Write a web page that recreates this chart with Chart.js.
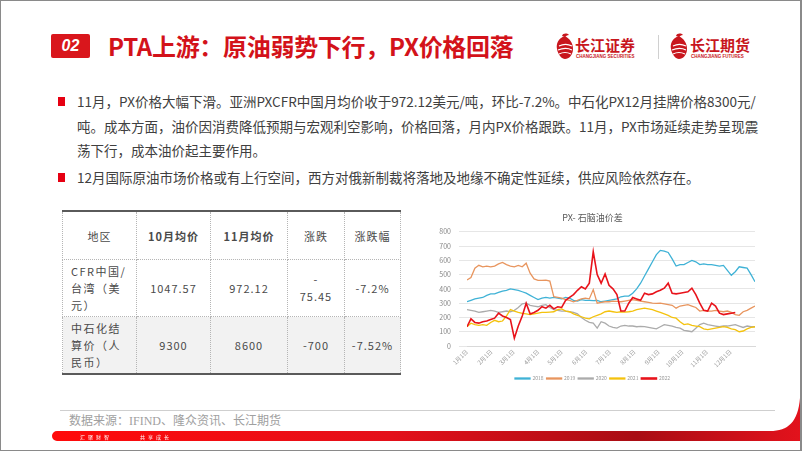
<!DOCTYPE html>
<html lang="zh">
<head>
<meta charset="utf-8"/>
<title>PTA上游：原油弱势下行，PX价格回落</title>
<script src="https://cdn.jsdelivr.net/npm/chart.js@4.4.3/dist/chart.umd.min.js"></script>
<style>
  body { margin: 0; width: 802px; height: 451px; position: relative; overflow: hidden; background: #fff; font-family: "Noto Sans CJK SC", "Noto Sans", sans-serif; }
  .abs { position: absolute; }
  .frame { left: 0; top: 0; width: 802px; height: 451px; box-sizing: border-box; border: 1px solid #8a8a8a; border-right-width: 2px; pointer-events: none; }
  .tag { left: 51px; top: 34px; width: 39px; height: 24px; background: #d9161c; border-radius: 2px; color: #fff; font: italic bold 16px "Liberation Sans", sans-serif; text-align: center; line-height: 24px; }
  .title { left: 108px; top: 28px; color: #d3121a; font-size: 24px; font-weight: bold; white-space: nowrap; letter-spacing: -0.3px; }
  .logo-cn { color: #c8161d; font-weight: bold; font-size: 15px; line-height: 15px; white-space: nowrap; }
  .logo-en { color: #c8161d; font: bold 4.5px "Liberation Sans", sans-serif; line-height: 5px; white-space: nowrap; }
  .txt { left: 77px; color: #404040; font-size: 13.5px; white-space: nowrap; line-height: 18px; }
  .sq { width: 7px; height: 9px; background: #e60012; }
  table { border-collapse: collapse; table-layout: fixed; color: #4a4a4a; font-size: 11px; }
  td { border: 1px dotted #b5b5b5; text-align: center; letter-spacing: 1px; padding: 0; }
  tr.head td { height: 47px; }
  tr.r1 td, tr.r2 td { height: 56px; }
  tr.r2 td { background: #f2f2f2; }
  td.lft { text-align: left; padding-left: 8px; line-height: 17px; letter-spacing: 1.5px; }
  .src { left: 69px; top: 411px; color: #a0a0a0; font: 12px "Liberation Serif", "Noto Sans CJK SC", serif; white-space: nowrap; }
  .chartbox { left: 430px; top: 205px; width: 340px; height: 186px; }
</style>
</head>
<body>
<div class="abs tag">02</div>
<div class="abs title">PTA上游：原油弱势下行，PX价格回落</div>

<svg class="abs" style="left:554px;top:32px" width="22" height="28" viewBox="0 0 22 28">
  <path d="M11 4 C4 6 2 12 3 17 C4 23 8 27 11 27 C15 27 19 23 19 17 C19 11 16 7 11 4 Z" fill="#c8161d"/>
  <path d="M5 14 C9 12 14 12 18 14 M4 18 C9 16 14 16 18 18 M5 22 C9 20 13 20 17 22" stroke="#fff" stroke-width="1.2" fill="none"/>
  <path d="M8 4 C9 1 13 1 15 3 C13 3 12 4 11 5 Z" fill="#c8161d"/>
</svg>
<div class="abs logo-cn" style="left:575px;top:37px">长江证券</div>
<div class="abs logo-en" style="left:576px;top:54px">CHANGJIANG SECURITIES</div>
<div class="abs" style="left:658px;top:35px;width:1px;height:24px;background:#d0d0d0"></div>
<svg class="abs" style="left:668px;top:32px" width="22" height="28" viewBox="0 0 22 28">
  <path d="M11 4 C4 6 2 12 3 17 C4 23 8 27 11 27 C15 27 19 23 19 17 C19 11 16 7 11 4 Z" fill="#c8161d"/>
  <path d="M5 14 C9 12 14 12 18 14 M4 18 C9 16 14 16 18 18 M5 22 C9 20 13 20 17 22" stroke="#fff" stroke-width="1.2" fill="none"/>
  <path d="M8 4 C9 1 13 1 15 3 C13 3 12 4 11 5 Z" fill="#c8161d"/>
</svg>
<div class="abs logo-cn" style="left:690px;top:37px">长江期货</div>
<div class="abs logo-en" style="left:691px;top:54px">CHANGJIANG FUTURES</div>

<div class="abs sq" style="left:58px;top:97px"></div>
<div class="abs txt" style="top:92px">11月，PX价格大幅下滑。亚洲PXCFR中国月均价收于972.12美元/吨，环比-7.2%。中石化PX12月挂牌价格8300元/</div>
<div class="abs txt" style="top:117px">吨。成本方面，油价因消费降低预期与宏观利空影响，价格回落，月内PX价格跟跌。11月，PX市场延续走势呈现震</div>
<div class="abs txt" style="top:141px">荡下行，成本油价起主要作用。</div>
<div class="abs sq" style="left:58px;top:173px"></div>
<div class="abs txt" style="top:168px">12月国际原油市场价格或有上行空间，西方对俄新制裁将落地及地缘不确定性延续，供应风险依然存在。</div>

<table class="abs" style="left:62px;top:210px;width:338px;border-top:2px solid #5a5a5a;border-bottom:2px solid #5a5a5a">
  <colgroup><col style="width:74px"><col style="width:74px"><col style="width:77px"><col style="width:57px"><col style="width:56px"></colgroup>
  <tr class="head"><td>地区</td><td style="font-weight:bold">10月均价</td><td style="font-weight:bold">11月均价</td><td>涨跌</td><td>涨跌幅</td></tr>
  <tr class="r1"><td class="lft">CFR中国/<br>台湾（美<br>元）</td><td>1047.57</td><td>972.12</td><td style="line-height:17px">-<br>75.45</td><td>-7.2%</td></tr>
  <tr class="r2"><td class="lft">中石化结<br>算价（人<br>民币）</td><td>9300</td><td>8600</td><td>-700</td><td>-7.52%</td></tr>
</table>

<div class="abs chartbox"><canvas id="pxChart"></canvas></div>

<div class="abs" style="left:60px;top:410px;width:715px;height:1px;background:#cfcfcf"></div>
<div class="abs src">数据来源：IFIND、隆众资讯、长江期货</div>
<svg class="abs" style="left:0;top:380px" width="802" height="71">
  <defs>
    <linearGradient id="bar" x1="51" x2="802" y1="0" y2="0" gradientUnits="userSpaceOnUse">
      <stop offset="0" stop-color="#ff0a0a"/>
      <stop offset="0.45" stop-color="#e4101a"/>
      <stop offset="0.78" stop-color="#a90d14"/>
      <stop offset="1" stop-color="#e3121c"/>
    </linearGradient>
  </defs>
  <path d="M57 51 H770 C788 51 798 42 800 18 V61 H57 A5 5 0 0 1 57 51 Z" fill="url(#bar)"/>
  <text x="80" y="58.5" fill="#fff" font-size="5" font-family="Noto Sans CJK SC" letter-spacing="3">汇聚财智</text>
  <text x="140" y="58.5" fill="#fff" font-size="5" font-family="Noto Sans CJK SC" letter-spacing="3">共享成长</text>
</svg>
<div class="abs frame"></div>

<script>
  // PX-石脑油价差, day of year sampled every 5 days
  const days = [0, 5, 10, 15, 20, 25, 30, 35, 40, 45, 50, 55, 60, 65, 70, 75, 80, 85, 90, 95,
    100, 105, 110, 115, 120, 125, 130, 135, 140, 145, 150, 155, 160, 165, 170, 175, 180, 185, 190, 195,
    200, 205, 210, 215, 220, 225, 230, 235, 240, 245, 250, 255, 260, 265, 270, 275, 280, 285, 290, 295,
    300, 305, 310, 315, 320, 325, 330, 335, 340, 345, 350, 355, 360, 365];

  const s2018 = [310, 320, 330, 335, 340, 355, 365, 365, 375, 385, 390, 400, 395, 390, 380, 370, 355, 340, 325, 335,
    340, 335, 340, 335, 330, 340, 335, 320, 315, 325, 320, 320, 318, 320, 310, 315, 320, 325, 330, 345,
    350, 350, 370, 400, 440, 490, 540, 590, 640, 670, 665, 655, 610, 560, 570, 570, 585, 600, 590, 570,
    575, 570, 570, 565, 560, 565, 530, 495, 520, 555, 550, 545, 500, 450];

  const s2019 = [463, 480, 545, 565, 555, 560, 555, 560, 575, 585, 570, 560, 555, 565, 555, 580, 510, 470, 460, 460,
    462, 455, 345, 340, 335, 325, 320, 310, 320, 330, 335, 330, 395, 300, 305, 310, 310, 315, 312, 310,
    315, 320, 325, 320, 315, 310, 305, 300, 298, 300, 295, 290, 285, 265, 280, 285, 290, 280, 270, 245,
    250, 245, 245, 250, 245, 240, 245, 235, 220, 215, 240, 250, 265, 280];

  const s2020 = [255, 250, 245, 235, 240, 245, 250, 245, 235, 240, 245, 240, 250, 270, 295, 300, 285, 280, 275, 285,
    290, 270, 255, 250, 245, 245, 240, 235, 225, 200, 180, 165, 160, 125, 170, 160, 140, 130, 125, 140,
    145, 140, 140, 135, 138, 135, 130, 125, 120, 135, 150, 145, 140, 130, 125, 110, 105, 100, 125, 150,
    160, 150, 145, 140, 135, 140, 140, 145, 150, 140, 130, 140, 135, 135];

  const s2021 = [135, 160, 150, 145, 150, 145, 165, 180, 170, 175, 210, 255, 245, 235, 228, 225, 220, 225, 230, 235,
    235, 238, 240, 255, 260, 245, 240, 225, 215, 205, 195, 190, 205, 215, 225, 240, 245, 240, 235, 240,
    238, 240, 245, 255, 260, 265, 260, 255, 245, 235, 225, 215, 200, 195, 170, 150, 155, 145, 140, 135,
    120, 115, 120, 125, 130, 135, 130, 120, 115, 100, 105, 120, 130, 135];

  const s2022 = [135, 190, 165, 160, 170, 175, 185, 195, 230, 210, 200, 185, 55, 140, 210, 300, 225, 235, 250, 275,
    265, 285, 260, 275, 270, 320, 340, 360, 390, 415, 400, 440, 660, 500, 440, 505, 425, 400, 360, 245,
    245, 300, 340, 330, 320, 370, 360, 365, 380, 390, 405, 440, 370, 365, 370, 375, 380, 405, 360, 300,
    250, 245, 300, 280, 230, 220, 225, 230, 235, null, null, null, null, null];

  const seriesNames = ['2018', '2019', '2020', '2021', '2022'];
  const seriesColors = ['#3fb2d6', '#e8955e', '#ababab', '#f4c20d', '#e8131b'];
  const monthStarts = [0, 31, 59, 90, 120, 151, 181, 212, 243, 273, 304, 334];

  const seriesValues = [s2018, s2019, s2020, s2021, s2022];
  const datasets = seriesValues.map((vals, i) => ({
    label: seriesNames[i],
    data: days.map((d, j) => ({ x: d, y: vals[j] })),
    borderColor: seriesColors[i],
    backgroundColor: seriesColors[i],
    borderWidth: i === 4 ? 1.6 : 1.3,
    pointRadius: 0,
    tension: 0,
    spanGaps: false,
    order: i === 4 ? 0 : 5 - i,
  }));

  Chart.defaults.font.family = '"Noto Sans CJK SC", "Noto Sans", sans-serif';

  new Chart(document.getElementById('pxChart'), {
    type: 'line',
    data: { datasets: datasets },
    options: {
      responsive: true,
      maintainAspectRatio: false,
      animation: false,
      layout: { padding: { left: 0, right: 15, top: 0, bottom: 0 } },
      plugins: {
        title: { display: true, text: 'PX- 石脑油价差', color: '#595959', font: { size: 9, weight: 'normal' }, padding: { top: 7, bottom: 9 } },
        legend: {
          position: 'bottom',
          labels: { boxWidth: 15, boxHeight: 1, font: { size: 5 }, color: '#999', padding: 3,
            sort: (a, b) => a.datasetIndex - b.datasetIndex },
        },
        tooltip: { enabled: false },
      },
      scales: {
        x: {
          type: 'linear', min: 0, max: 365,
          afterBuildTicks: (scale) => { scale.ticks = monthStarts.map(v => ({ value: v })); },
          ticks: {
            callback: (v) => (monthStarts.indexOf(v) + 1) + '月1日',
            color: '#999', font: { size: 6 }, padding: 2, minRotation: 45, maxRotation: 45, autoSkip: false,
          },
          grid: { display: false, drawTicks: false, tickLength: 0 },
          border: { color: '#d9d9d9' },
          afterFit: (scale) => { scale.height = 27; },
        },
        y: {
          min: 0, max: 800,
          ticks: { stepSize: 100, color: '#888', font: { size: 7 }, padding: 8 },
          grid: { color: '#e6e6e6' },
          border: { display: false },
          afterFit: (scale) => { scale.width = 37; },
        },
      },
    },
  });
</script>
</body>
</html>
